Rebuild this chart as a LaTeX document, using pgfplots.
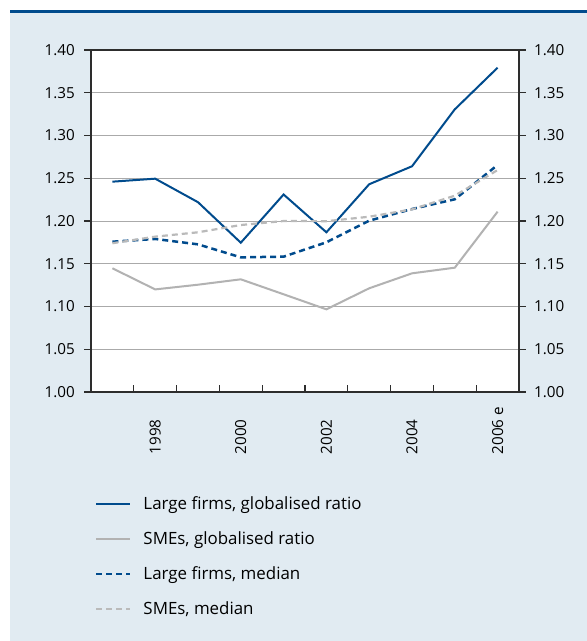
\documentclass[border=0pt]{standalone}
\usepackage{fontspec}
\setmainfont{Open Sans}
\usepackage{pgfplots}
\pgfplotsset{compat=1.18}

\definecolor{dblue}{RGB}{0,75,141}
\definecolor{lgray}{RGB}{178,178,178}
\definecolor{bgblue}{RGB}{225,235,242}
\definecolor{gridgray}{RGB}{170,170,170}
\definecolor{axisgray}{RGB}{45,45,45}
\newcommand\tickfont{\fontsize{15.2pt}{18pt}\selectfont}
\newcommand\legfont{\fontsize{16.9pt}{20pt}\selectfont}
\newcommand\lab[1]{\makebox[62pt][l]{#1}}

\begin{document}
\begin{tikzpicture}[font=\tickfont]
\useasboundingbox (-91pt,-249pt) rectangle (496pt,392pt);
\fill[bgblue] (-81pt,-249pt) rectangle (496pt,379pt);
\fill[dblue] (-81pt,379pt) rectangle (496pt,381.5pt);

\begin{axis}[
    at={(0pt,0pt)}, anchor=south west,
    scale only axis,
    width=428pt, height=342pt,
    xmin=1996.5, xmax=2006.5,
    ymin=1.0, ymax=1.4,
    xtick={1998,2000,2002,2004,2006},
    xticklabels={\lab{1998},\lab{2000},\lab{2002},\lab{2004},\lab{2006 e}},
    minor xtick={1997.5,1998.5,1999.5,2000.5,2001.5,2002.5,2003.5,2004.5,2005.5},
    ytick={1.00,1.05,1.10,1.15,1.20,1.25,1.30,1.35,1.40},
    xtick pos=bottom, ytick pos=left,
    tick align=inside,
    major tick length=0pt, minor tick length=7pt,
    minor tick style={axisgray, line width=1.2pt},
    ymajorgrids, grid style={gridgray, line width=1pt},
    axis background/.style={fill=white},
    axis line style={axisgray, line width=1.2pt},
    xticklabel style={rotate=90, anchor=east, inner sep=0pt, font=\tickfont},
    yticklabel style={anchor=east, inner sep=0pt, xshift=-16pt, font=\tickfont},
    /pgf/number format/.cd, fixed, fixed zerofill, precision=2, assume math mode=true,
    /pgfplots/.cd,
    legend style={at={(4pt,-102pt)}, anchor=north west, draw=none, fill=none,
        row sep=14.5pt, inner sep=0pt, outer sep=0pt,
        nodes={inner sep=3pt}},
    legend cell align=left,
    legend image code/.code={\draw[#1] (0pt,0pt) -- (34pt,0pt);},
]
\addplot[dblue, line width=2pt] coordinates {
    (1997,1.246)(1998,1.2495)(1999,1.222)(2000,1.1746)(2001,1.231)
    (2002,1.1868)(2003,1.243)(2004,1.264)(2005,1.3306)(2006,1.3793)};
\addlegendentry{\legfont\hspace{9pt}Large firms, globalised ratio}
\addplot[lgray, line width=2pt] coordinates {
    (1997,1.1447)(1998,1.120)(1999,1.1255)(2000,1.1318)(2001,1.1143)
    (2002,1.0967)(2003,1.1213)(2004,1.1388)(2005,1.1454)(2006,1.2109)};
\addlegendentry{\legfont\hspace{9pt}SMEs, globalised ratio}
\addplot[dblue, line width=2.5pt, dash pattern=on 6pt off 4pt] coordinates {
    (1997,1.1758)(1998,1.179)(1999,1.1727)(2000,1.1575)(2001,1.1583)
    (2002,1.1751)(2003,1.2004)(2004,1.214)(2005,1.2254)(2006,1.2655)};
\addlegendentry{\legfont\hspace{9pt}Large firms, median}
\addplot[lgray!90, line width=2.2pt, dash pattern=on 6pt off 4pt] coordinates {
    (1997,1.174)(1998,1.1817)(1999,1.1868)(2000,1.1953)(2001,1.2)
    (2002,1.1998)(2003,1.205)(2004,1.2136)(2005,1.2296)(2006,1.2596)};
\addlegendentry{\legfont\hspace{9pt}SMEs, median}
\draw[axisgray, line width=2pt] (rel axis cs:0,0) -- (rel axis cs:0,1);
\end{axis}

\begin{axis}[
    at={(0pt,0pt)}, anchor=south west,
    scale only axis,
    width=428pt, height=342pt,
    xmin=1996.5, xmax=2006.5,
    ymin=1.0, ymax=1.4,
    xtick=\empty,
    ytick={1.00,1.05,1.10,1.15,1.20,1.25,1.30,1.35,1.40},
    yticklabel pos=right, ytick pos=both,
    tick align=outside, major tick length=7pt,
    major tick style={axisgray, line width=1.2pt},
    axis line style={draw=none},
    yticklabel style={anchor=west, inner sep=0pt, xshift=8pt, font=\tickfont},
    /pgf/number format/.cd, fixed, fixed zerofill, precision=2, assume math mode=true,
]
\end{axis}
\end{tikzpicture}
\end{document}
